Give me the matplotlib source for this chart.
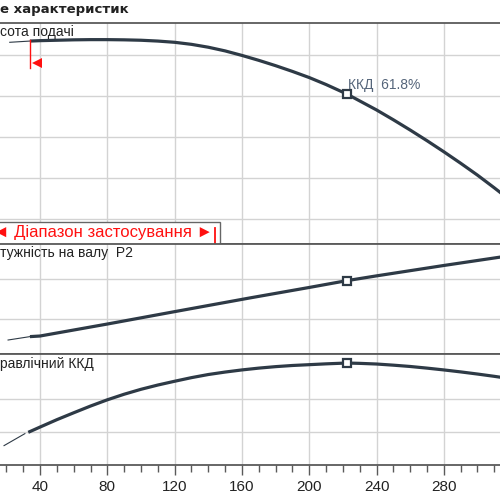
import matplotlib
matplotlib.use("Agg")
import matplotlib.pyplot as plt
from matplotlib.patches import Rectangle

# --- data (Q in m3/h, H in m, P2 in kW, eta in %) ---
q_head = [34, 40, 50, 60, 70, 80, 90, 100, 110, 120, 130, 140, 150, 160, 170, 180,
          190, 200, 210, 222.3, 230, 240, 250, 260, 270, 280, 290, 300, 310, 320]
head = [53.4, 53.5, 53.6, 53.7, 53.75, 53.75, 53.7, 53.6, 53.4, 53.1, 52.6, 51.9, 51.0, 49.9,
        48.7, 47.4, 46.0, 44.5, 42.8, 40.5, 38.8, 36.6, 34.2, 31.7, 29.1, 26.4, 23.6, 20.7,
        17.6, 14.4]

q_power = [34, 40, 80, 120, 165, 200, 222.3, 240, 280, 320]
power = [25.6, 25.75, 28.75, 31.85, 35.3, 37.9, 39.6, 40.8, 43.4, 45.9]

q_eff = [33, 40, 50, 60, 70, 80, 90, 100, 110, 120, 130, 140, 150, 160, 170, 180, 190,
         200, 210, 222.3, 230, 240, 250, 260, 270, 280, 290, 300, 310, 320]
eff = [19.6, 22.8, 27.3, 31.5, 35.6, 39.4, 42.8, 45.8, 48.4, 50.7, 52.9, 54.8, 56.3, 57.6,
       58.7, 59.6, 60.3, 60.8, 61.3, 61.8, 61.6, 61.2, 60.5, 59.7, 58.7, 57.6, 56.4, 55.1,
       53.7, 52.2]

q_head_thin = [22, 34]
head_thin = [53.1, 53.4]
q_power_thin = [21, 34]
power_thin = [24.75, 25.6]
q_eff_thin = [18.6, 31]
eff_thin = [11.5, 18.8]

q_duty = 222.3
head_duty = 40.5
power_duty = 39.6
eff_duty = 61.8

q_min_mark = 34.1
q_range_end = 144
xticks = [40, 80, 120, 160, 200, 240, 280]

CURVE = "#2e3a46"
GRID = "#d3d3d3"
SPINE = "#5a5a5a"
RED = "#ff1010"
XLIM = (16.2, 313.4)

fig = plt.figure(figsize=(5, 5), dpi=100)
plt.rcParams["font.family"] = ["Liberation Sans", "DejaVu Sans"]


def make_panel(rect, ylim, yticks):
    ax = fig.add_axes(rect)
    ax.set_xlim(*XLIM)
    ax.set_ylim(*ylim)
    ax.set_xticks(xticks)
    ax.set_yticks(yticks)
    ax.grid(True, color=GRID, linewidth=1.0)
    ax.set_axisbelow(True)
    ax.tick_params(axis="y", length=0, labelleft=False)
    ax.tick_params(axis="x", length=0, labelbottom=False)
    for side in ["left", "right"]:
        ax.spines[side].set_visible(False)
    for side in ["top", "bottom"]:
        ax.spines[side].set_color(SPINE)
        ax.spines[side].set_linewidth(1.3)
    return ax


ax1 = make_panel([0, 0.513, 1, 0.4416], (4.02, 57.88), [10, 20, 30, 40, 50])
ax2 = make_panel([0, 0.292, 1, 0.221], (21.25, 48.9), [30, 40])
ax3 = make_panel([0, 0.071, 1, 0.221], (0, 67.3), [20, 40])

# head
ax1.plot(q_head_thin, head_thin, color=CURVE, lw=0.8)
ax1.plot(q_head, head, color=CURVE, lw=2.3, solid_capstyle="butt", solid_joinstyle="round")
ax1.plot(q_duty, head_duty, marker="s", ms=6, mfc="white", mec=CURVE, mew=1.6)
ax1.text(q_duty + 1, head_duty + 2.3, "ККД  61.8%", color="#55657a", fontsize=10,
         ha="left", va="center")

# minimum flow mark
ax1.plot([q_min_mark, q_min_mark], [46.8, 53.7], color=RED, lw=1.0)
ax1.plot(q_min_mark + 3.8, 48.05, marker="<", ms=7, color=RED, mew=0)

# operating range box (its left part runs off the cropped picture)
box = Rectangle((-10, 4.02), q_range_end + 3 + 10, 9.27 - 4.02,
                facecolor="white", edgecolor="#666666", lw=1.0, zorder=3)
ax1.add_patch(box)
ax1.text(12.2, 6.75, "◄ Діапазон застосування ►", color=RED, fontsize=12,
         ha="left", va="center", zorder=4)
ax1.plot([q_range_end, q_range_end], [4.02, 7.8], color=RED, lw=1.3, zorder=4)

# power
ax2.plot(q_power_thin, power_thin, color=CURVE, lw=0.8)
ax2.plot(q_power, power, color=CURVE, lw=2.3, solid_capstyle="butt", solid_joinstyle="round")
ax2.plot(q_duty, power_duty, marker="s", ms=6, mfc="white", mec=CURVE, mew=1.6)

# efficiency
ax3.plot(q_eff_thin, eff_thin, color=CURVE, lw=0.8)
ax3.plot(q_eff, eff, color=CURVE, lw=2.3, solid_capstyle="butt", solid_joinstyle="round")
ax3.plot(q_duty, eff_duty, marker="s", ms=6, mfc="white", mec=CURVE, mew=1.6)

# x axis ticks on bottom panel
ax3.set_xticks(range(20, 320, 10), minor=True)
ax3.tick_params(axis="x", which="major", length=7, width=1.0, color=SPINE,
                labelbottom=True, labelsize=11, pad=4, labelcolor="#222222")
ax3.tick_params(axis="x", which="minor", length=5, width=1.0, color=SPINE)

# panel labels
fig.text(0.0, 1 - 32 / 500, "сота подачі", fontsize=10, color="#222222", va="center")
fig.text(0.0, 1 - 253 / 500, "тужність на валу  Р2", fontsize=10, color="#222222", va="center")
fig.text(0.0, 1 - 364 / 500, "равлічний ККД", fontsize=10, color="#222222", va="center")
fig.text(0.0, 1 - 9 / 500, "е характеристик", fontsize=9.5, fontweight="bold",
         family="DejaVu Sans", color="#222222", va="center")

fig.savefig("out.png", dpi=100)
